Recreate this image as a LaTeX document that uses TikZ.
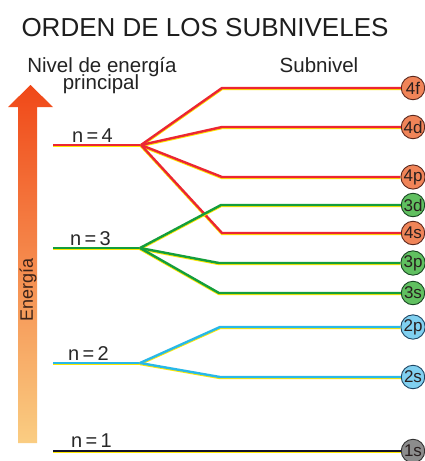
\documentclass[tikz,border=0pt]{standalone}
\usepackage{fontspec}
\setmainfont{Liberation Sans}
\begin{document}
\begin{tikzpicture}[x=1pt,y=-1pt,
  lvl/.style={line width=2.4pt, line join=round,
    preaction={draw=yellow!90!orange, line width=2.6pt, transform canvas={yshift=-0.9pt}}},
  red4/.style={lvl, draw={rgb,255:red,235;green,38;blue,50}},
  green3/.style={lvl, draw={rgb,255:red,20;green,158;blue,60}},
  blue2/.style={lvl, draw={rgb,255:red,40;green,184;blue,232}},
  black1/.style={lvl, draw={rgb,255:red,20;green,20;blue,40}},
  sub/.style={circle, minimum size=23.5pt, inner sep=0pt, line width=0.9pt,
    font=\fontsize{17}{17}\selectfont, text={rgb,255:red,40;green,30;blue,30}},
  sub4/.style={sub, draw={rgb,255:red,90;green,40;blue,30}, fill={rgb,255:red,240;green,132;blue,88}},
  sub3/.style={sub, draw={rgb,255:red,25;green,70;blue,35}, fill={rgb,255:red,96;green,192;blue,96}},
  sub2/.style={sub, draw={rgb,255:red,30;green,70;blue,100}, fill={rgb,255:red,128;green,208;blue,240}},
  sub1/.style={sub, draw={rgb,255:red,50;green,50;blue,50}, fill={rgb,255:red,140;green,140;blue,140}},
  nlab/.style={anchor=base west, font=\fontsize{20}{20}\selectfont, text={rgb,255:red,40;green,40;blue,40}, inner sep=0pt},
  hdr/.style={font=\fontsize{20.5}{16}\selectfont, text={rgb,255:red,35;green,35;blue,35}, inner sep=0pt}
]
\useasboundingbox (0,0) rectangle (424,461);
\fill[white] (0,0) rectangle (424,461);

% title and headers
\node[anchor=base, font=\fontsize{26}{26}\selectfont, text={rgb,255:red,30;green,30;blue,30}, inner sep=0pt] (title) at (205,36) {ORDEN DE LOS SUBNIVELES};
\node[hdr, anchor=base, text depth=0pt] (nivel) at (102,72) {Nivel de energía};
\node[hdr, anchor=base, text height=11pt] (principal) at (101,89) {principal};
\node[hdr, anchor=base] (subnivel) at (319,72) {Subnivel};

% energy arrow
\shade[top color={rgb,255:red,240;green,72;blue,24}, middle color={rgb,255:red,245;green,120;blue,40}, bottom color={rgb,255:red,250;green,205;blue,130}]
  (30.5,85) -- (53,107) -- (37,107) -- (37,443) -- (18,443) -- (18,107) -- (8,107) -- cycle;
\node[rotate=90, font=\fontsize{18}{18}\selectfont, text={rgb,255:red,60;green,35;blue,25}, inner sep=0pt] (energia) at (28,290) {Energía};

% subshell circles
\node[sub4] (c4f) at (413,88) {4f};
\node[sub4] (c4d) at (413,127) {4d};
\node[sub4] (c4p) at (413,177) {4p};
\node[sub3] (c3d) at (413,205) {3d};
\node[sub4] (c4s) at (413,233) {4s};
\node[sub3] (c3p) at (413,263) {3p};
\node[sub3] (c3s) at (413,293) {3s};
\node[sub2] (c2p) at (413,327) {2p};
\node[sub2] (c2s) at (413,377) {2s};
\node[sub1] (c1s) at (413,451) {1s};

% coordinates
\coordinate (s4) at (53,145);  \coordinate (b4) at (141,145);
\coordinate (e4f) at (222,88); \coordinate (e4d) at (222,127);
\coordinate (e4p) at (222,177); \coordinate (e4s) at (222,233);
\coordinate (s3) at (53,248);  \coordinate (b3) at (140,248);
\coordinate (e3d) at (221,205); \coordinate (e3p) at (219,263); \coordinate (e3s) at (219,293);
\coordinate (s2) at (53,363);  \coordinate (b2) at (140,363);
\coordinate (e2p) at (220,327); \coordinate (e2s) at (220,377);
\coordinate (s1) at (53,451);

% level lines
\draw[red4] (s4) -- (b4);
\draw[red4] (b4) -- (e4f) -- (c4f.west);
\draw[red4] (b4) -- (e4d) -- (c4d.west);
\draw[red4] (b4) -- (e4p) -- (c4p.west);
\draw[red4] (b4) -- (e4s) -- (c4s.west);
\draw[green3] (s3) -- (b3);
\draw[green3] (b3) -- (e3d) -- (c3d.west);
\draw[green3] (b3) -- (e3p) -- (c3p.west);
\draw[green3] (b3) -- (e3s) -- (c3s.west);
\draw[blue2] (s2) -- (b2);
\draw[blue2] (b2) -- (e2p) -- (c2p.west);
\draw[blue2] (b2) -- (e2s) -- (c2s.west);
\draw[black1] (s1) -- (c1s.west);

% level labels
\node[nlab] (n4) at (72,142) {n\,=\,4};
\node[nlab] (n3) at (70,245) {n\,=\,3};
\node[nlab] (n2) at (68,360) {n\,=\,2};
\node[nlab] (n1) at (71,447) {n\,=\,1};
\end{tikzpicture}
\end{document}
